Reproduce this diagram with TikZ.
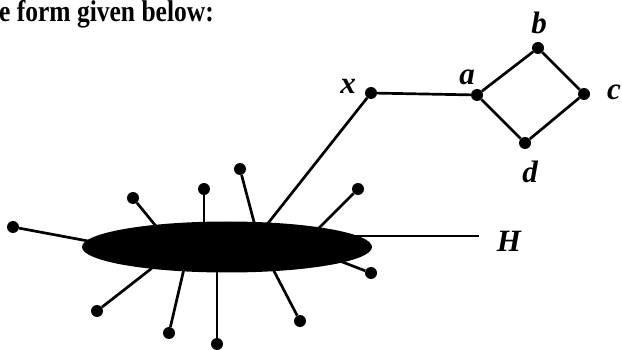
\documentclass[tikz,border=0pt]{standalone}
\usepackage{fontspec}
\usepackage{graphicx}
\setmainfont{Liberation Serif}
\usetikzlibrary{shapes.geometric}
\begin{document}
\begin{tikzpicture}[x=1pt,y=-1pt,
  dot/.style={circle,fill=black,inner sep=0pt,minimum size=12pt},
  edge/.style={line width=2.7pt},
  stub/.style={line width=2.7pt,shorten >=-6pt},
  lbl/.style={font=\fontsize{31}{31}\selectfont\bfseries\itshape,inner sep=0pt}]
\useasboundingbox (0,0) rectangle (622,350);
\node[anchor=base west,inner sep=0pt,font=\fontsize{30}{30}\selectfont\bfseries] (title) at (-1,22) {\scalebox{0.85}[1]{e form given below:}};
% top graph
\node[dot] (x) at (371,93) {};
\node[dot] (a) at (477,95) {};
\node[dot] (b) at (538,48) {};
\node[dot] (c) at (584,94) {};
\node[dot] (d) at (525,143) {};
\node[lbl] (lx) at (348,86) {x};
\node[lbl] (la) at (467,77) {a};
\node[lbl] (lb) at (539,23) {b};
\node[lbl] (lc) at (614,92) {c};
\node[lbl] (ld) at (530,172) {d};
\node[lbl] (lH) at (509,241) {H};
\draw[edge] (x) -- (a) -- (b) -- (c) -- (d) -- (a);
% pendant vertices
\node[dot] (p1) at (13,227) {};
\node[dot] (p2) at (133,198) {};
\node[dot] (p3) at (204,189) {};
\node[dot] (p4) at (240,169) {};
\node[dot] (p5) at (358,189) {};
\node[dot] (p6) at (371,273) {};
\node[dot] (p7) at (300,321) {};
\node[dot] (p8) at (217,344) {};
\node[dot] (p9) at (169,333) {};
\node[dot] (p10) at (97,311) {};
\coordinate (e1) at (88,241);
\coordinate (e2) at (155,225);
\coordinate (e3) at (204,222);
\coordinate (e4) at (254,222);
\coordinate (e5) at (320,227);
\coordinate (e6) at (345,263);
\coordinate (e7) at (275,273);
\coordinate (e8) at (217,273);
\coordinate (e9) at (183,273);
\coordinate (e10) at (147,272);
\coordinate (ex) at (269,222);
\coordinate (hs) at (350,236);
\coordinate (he) at (479,236);
\foreach \i in {1,...,10} {\draw[stub] (p\i) -- (e\i);}
\draw[stub] (x) -- (ex);
\draw[edge] (hs) -- (he);
% the subgraph H
\node[ellipse,fill=black,inner sep=0pt,minimum width=290pt,minimum height=51pt] (H) at (227,247) {};
\end{tikzpicture}
\end{document}
